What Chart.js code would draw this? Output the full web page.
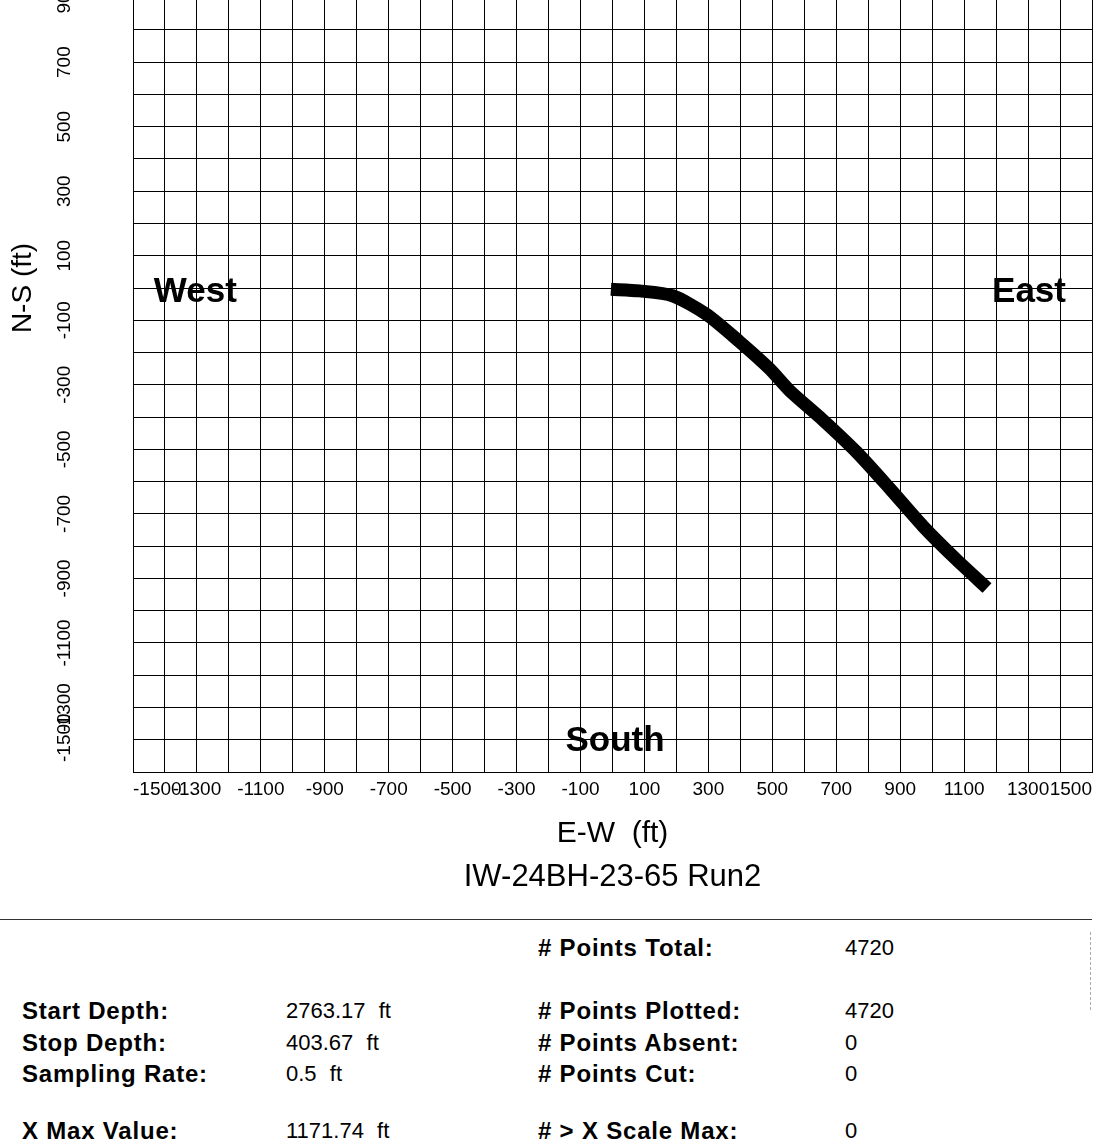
<!DOCTYPE html>
<html>
<head>
<meta charset="utf-8">
<script src="https://cdn.jsdelivr.net/npm/chart.js@4.4.1/dist/chart.umd.min.js"></script>
<style>
  html, body { margin: 0; padding: 0; background: #fff; }
  body { width: 1098px; height: 1139px; overflow: hidden; position: relative;
         font-family: "Liberation Sans", Arial, Helvetica, sans-serif; color: #000; }
  #c { position: absolute; left: 0; top: -256px; }
  .t { position: absolute; white-space: pre; font-size: 22px; line-height: 26px; word-spacing: 0.5px; }
  .b { font-weight: bold; font-size: 24px; letter-spacing: 0.8px; word-spacing: 0; }
  #rule { position: absolute; left: 0; top: 919px; width: 1092px; border-top: 1px solid #333; }
  #side { position: absolute; left: 1090px; top: 932px; height: 78px; border-left: 1px dashed #aaa; }
</style>
</head>
<body>
<canvas id="c" width="1098" height="1152"></canvas>
<div id="rule"></div>
<div id="side"></div>
<div id="table"></div>
<script>
// ---- data ----
const ewFeet = [-5, 84, 188, 293, 397, 491, 554, 658, 763, 867, 972, 1076, 1171.74];
const nsFeet = [-4, -9, -24, -81, -166, -250, -318, -409, -508, -621, -739, -842, -930];

const axisMin = -1500;
const axisMax = 1500;
const gridStep = 100;

const compassText = ['West', 'East', 'South'];
const compassEW = [-1305, 1303, 8];
const compassNS = [-15, -15, -1405];

const chartTitle = 'IW-24BH-23-65 Run2';
const xTitle = 'E-W  (ft)';
const yTitle = 'N-S (ft)';

const leftLabels = ['Start Depth:', 'Stop Depth:', 'Sampling Rate:', 'X Max Value:'];
const leftValues = ['2763.17  ft', '403.67  ft', '0.5  ft', '1171.74  ft'];
const rightLabels = ['# Points Total:', '# Points Plotted:', '# Points Absent:', '# Points Cut:', '# > X Scale Max:'];
const rightValues = ['4720', '4720', '0', '0', '0'];

// ---- info table (text) ----
const leftRowsY = [1011, 1043, 1074, 1131];
const rightRowsY = [948, 1011, 1043, 1074, 1131];
const tbl = document.getElementById('table');
function addText(txt, x, yc, cls) {
  const d = document.createElement('div');
  d.className = 't' + (cls ? ' ' + cls : '');
  d.textContent = txt;
  d.style.left = x + 'px';
  d.style.top = (yc - 13) + 'px';
  tbl.appendChild(d);
}
leftLabels.forEach((s, i) => addText(s, 22, leftRowsY[i], 'b'));
leftValues.forEach((s, i) => addText(s, 286, leftRowsY[i]));
rightLabels.forEach((s, i) => addText(s, 538, rightRowsY[i], 'b'));
rightValues.forEach((s, i) => addText(s, 845, rightRowsY[i]));

// ---- chart ----
const FONT = '"Liberation Sans", Arial, Helvetica, sans-serif';
Chart.defaults.font.family = FONT;
Chart.defaults.color = '#000';

const isOddHundred = v => Math.abs(Math.round(v / 100)) % 2 === 1;

const compassPlugin = {
  id: 'compass',
  afterDatasetsDraw(chart) {
    const { ctx, scales: { x, y } } = chart;
    ctx.save();
    ctx.font = 'bold 35px ' + FONT;
    ctx.fillStyle = '#000';
    ctx.textAlign = 'center';
    ctx.textBaseline = 'middle';
    compassText.forEach((t, i) => {
      ctx.fillText(t, x.getPixelForValue(compassEW[i]), y.getPixelForValue(compassNS[i]));
    });
    ctx.restore();
  }
};

new Chart(document.getElementById('c'), {
  type: 'scatter',
  data: {
    datasets: [{
      data: ewFeet.map((x, i) => ({ x: x, y: nsFeet[i] })),
      showLine: true,
      borderColor: '#000',
      backgroundColor: '#000',
      borderWidth: 13,
      borderCapStyle: 'butt',
      borderJoinStyle: 'round',
      tension: 0.25,
      pointRadius: 0,
      pointHoverRadius: 0
    }]
  },
  options: {
    responsive: false,
    animation: false,
    events: [],
    layout: { padding: { top: 60, right: 6, bottom: 0, left: 0 } },
    plugins: {
      legend: { display: false },
      tooltip: { enabled: false },
      title: {
        display: true,
        text: chartTitle,
        position: 'bottom',
        fullSize: false,
        color: '#000',
        font: { size: 31, weight: 'normal' },
        padding: { top: 6.8, bottom: 0 }
      }
    },
    scales: {
      x: {
        type: 'linear',
        min: axisMin,
        max: axisMax,
        grid: { color: '#000', lineWidth: 1, drawTicks: false },
        border: { display: true, color: '#000', width: 1 },
        ticks: {
          stepSize: gridStep,
          autoSkip: false,
          align: 'inner',
          minRotation: 0,
          maxRotation: 0,
          padding: 6,
          color: '#000',
          font: { size: 19 },
          callback: v => isOddHundred(v) ? String(v) : ''
        },
        title: {
          display: true,
          text: xTitle,
          color: '#000',
          font: { size: 30 },
          padding: { top: 0, bottom: 0 }
        },
        afterFit: s => { s.height = 80; }
      },
      y: {
        type: 'linear',
        min: axisMin,
        max: axisMax,
        grid: { color: '#000', lineWidth: 1, drawTicks: false },
        border: { display: true, color: '#000', width: 1 },
        ticks: {
          stepSize: gridStep,
          autoSkip: false,
          minRotation: 90,
          maxRotation: 90,
          crossAlign: 'center',
          padding: 9.4,
          color: '#000',
          font: { size: 19 },
          callback: v => {
            if (!isOddHundred(v)) return '';
            return v === axisMin ? ' '.repeat(13) + String(v) : String(v);
          }
        },
        title: {
          display: true,
          text: yTitle,
          color: '#000',
          font: { size: 28 },
          padding: { top: 6.2, bottom: 0 }
        },
        afterFit: s => { s.width = 133; }
      }
    }
  },
  plugins: [compassPlugin]
});
</script>
</body>
</html>
